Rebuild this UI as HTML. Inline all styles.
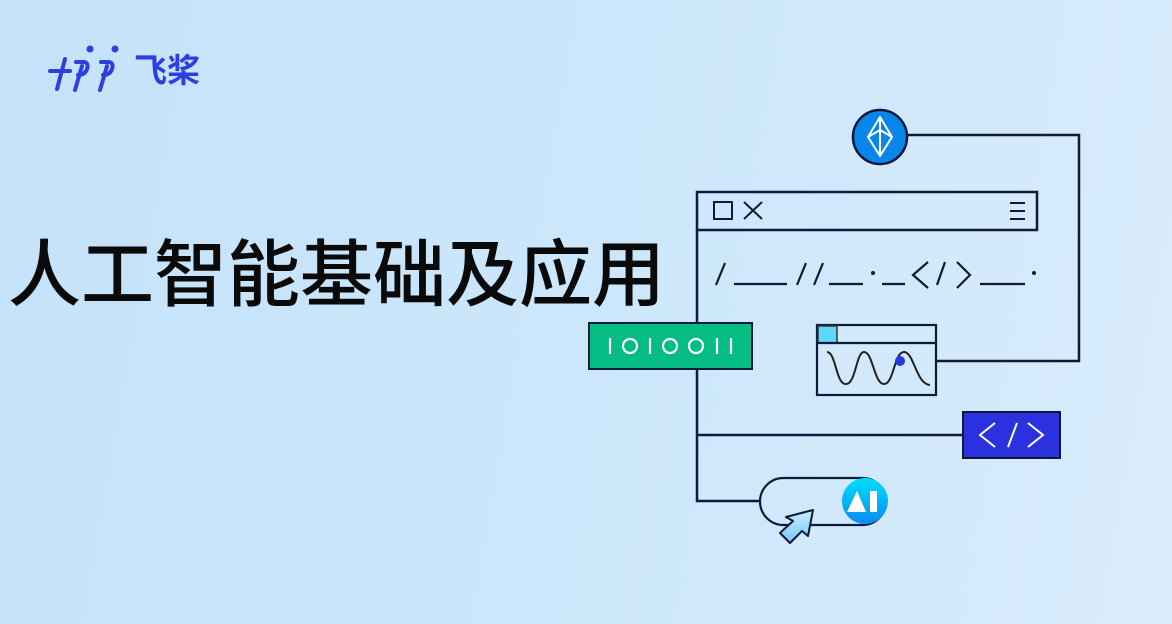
<!DOCTYPE html>
<html><head><meta charset="utf-8"><style>
html,body{margin:0;padding:0}
body{width:1172px;height:624px;overflow:hidden;background:linear-gradient(100deg,#c4e2fa 0%,#cde7fb 55%,#d9ecfb 100%);position:relative;font-family:"Liberation Sans","Noto Sans CJK SC",sans-serif}
.title{position:absolute;left:8px;top:236px;font-size:73px;font-weight:500;color:#0a0a0a;letter-spacing:0px;line-height:80px;white-space:nowrap}
.logo{position:absolute;left:46px;top:40px}
</style></head><body>
<div class="logo">
<svg width="170" height="56" viewBox="0 0 170 56">
<g stroke="#2d3fe0" stroke-width="4" fill="none" stroke-linecap="round">
<path d="M4 31 H24"/><path d="M19 19 L11 49"/>
<path d="M30 22 H38 Q43 23 41 29 Q39 35 32 35"/><path d="M36 26 L29 50"/>
<path d="M55 22 H63 Q68 23 66 29 Q64 35 57 35"/><path d="M61 26 L54 50"/>
</g>
<circle cx="44" cy="9" r="3.5" fill="#2d3fe0"/><circle cx="69" cy="9" r="3.5" fill="#2d3fe0"/>
<text x="88" y="42" font-size="33" font-weight="700" fill="#2d3fe0" font-family="Liberation Sans,Noto Sans CJK SC,sans-serif">飞桨</text>
</svg></div>
<div class="title">人工智能基础及应用</div>
<svg width="1172" height="624" style="position:absolute;left:0;top:0">
<g stroke="#0e1a3d" stroke-width="2.5" fill="none">
<path d="M907 135 H1079 V361 H937"/>
<rect x="697" y="192" width="340" height="38"/>
<path d="M697 230 V501 H760"/>
<path d="M697 435 H963"/>
</g>
<circle cx="880" cy="137" r="27" fill="#0a86ea" stroke="#0e1a3d" stroke-width="2.5"/>
<g stroke="#fff" stroke-width="2" fill="none" stroke-linejoin="round"><path d="M880 117 L868 137 L880 156 L892 137 Z M868 137 L880 130 L892 137 M880 117 V156"/></g>
<g stroke="#0e1a3d" stroke-width="2" fill="none">
<rect x="714" y="202" width="18" height="17"/><path d="M744 202 L762 219 M762 202 L744 219"/>
<path d="M1010 203 H1025 M1010 211 H1025 M1010 219 H1025"/>
</g>
<g stroke="#0e1a3d" stroke-width="2.2" fill="none">
<path d="M725 263 L716 285"/><path d="M734 284 H787"/>
<path d="M806 263 L797 285 M823 263 L814 285"/><path d="M829 284 H863"/>
<path d="M882 284 H905"/><path d="M928 262 L913 275 L928 288"/><path d="M945 262 L937 285"/><path d="M957 262 L970 275 L957 288"/><path d="M980 284 H1025"/>
</g>
<circle cx="873" cy="273" r="2" fill="#0e1a3d"/><circle cx="1034" cy="273" r="2" fill="#0e1a3d"/>
<rect x="589" y="323" width="163" height="46" fill="#05bd82" stroke="#0e1a3d" stroke-width="2"/>
<g stroke="#fff" stroke-width="2.2" fill="none">
<path d="M610 338 V354"/><circle cx="630" cy="346" r="7"/><path d="M650 338 V354"/><circle cx="670" cy="346" r="7"/><circle cx="696" cy="346" r="7"/><path d="M717 338 V354 M731 338 V354"/>
</g>
<rect x="817" y="325" width="119" height="70" fill="#d2e8fb" stroke="#0e1a3d" stroke-width="2.2"/>
<rect x="818" y="326" width="19" height="17" fill="#5dd8f8" stroke="#333" stroke-width="1.5"/>
<path d="M817 343 H936" stroke="#0e1a3d" stroke-width="2.2"/>
<path d="M827 352 C836 352 836 385 846 384 C856 384 856 352 864 352 C873 352 874 384 884 384 C894 384 894 352 904 352 C914 352 916 384 930 385" stroke="#222" stroke-width="2" fill="none"/>
<circle cx="900" cy="361" r="5" fill="#2838e0"/>
<rect x="963" y="412" width="97" height="46" fill="#2b31de" stroke="#0e1a3d" stroke-width="2"/>
<g stroke="#fff" stroke-width="2" fill="none"><path d="M995 423 L980 435 L995 447"/><path d="M1017 423 L1008 447"/><path d="M1028 423 L1043 435 L1028 447"/></g>
<rect x="760" y="478" width="126" height="47" rx="23.5" fill="none" stroke="#0e1a3d" stroke-width="2.2"/>
<defs><linearGradient id="ai" x1="0" y1="0" x2="0" y2="1"><stop offset="0" stop-color="#00e0fa"/><stop offset="1" stop-color="#0a8af0"/></linearGradient>
<linearGradient id="cur" x1="0" y1="0" x2="0" y2="1"><stop offset="0" stop-color="#c9ecfd"/><stop offset="1" stop-color="#78c8f4"/></linearGradient></defs>
<circle cx="865" cy="501" r="23" fill="url(#ai)"/>
<path d="M847 512 L857 491 L866 512 Z" fill="#fff"/><rect x="870" y="491" width="7" height="21" fill="#fff"/>
<path d="M813 510 L786 517 L793 521 L780 533 L790 543 L802 531 L808 536 Z" fill="url(#cur)" stroke="#0e1a3d" stroke-width="2" stroke-linejoin="round"/>
</svg>
</body></html>
